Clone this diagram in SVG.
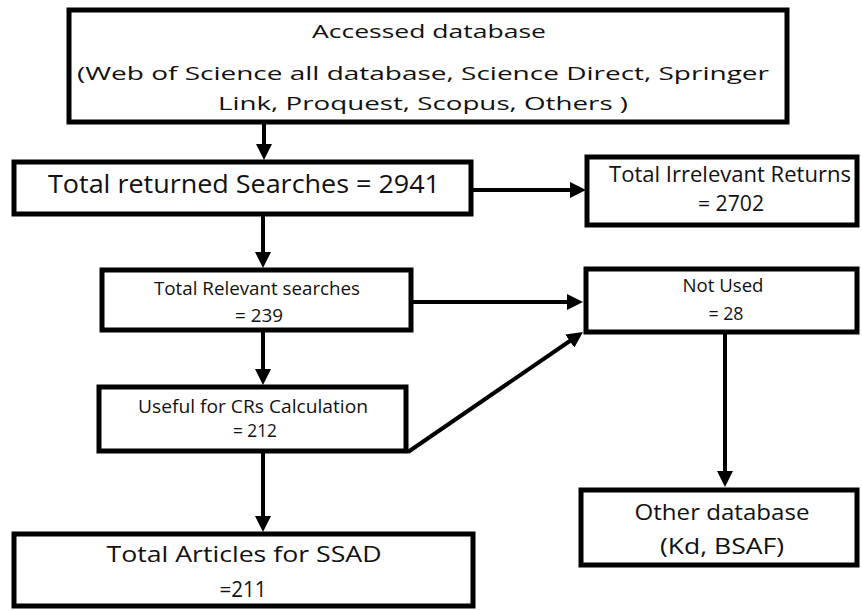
<svg xmlns="http://www.w3.org/2000/svg" width="862" height="610" viewBox="0 0 862 610">
<style>
.box{fill:#fff;stroke:#000;stroke-width:5}
.t{font-family:"Open Sans","DejaVu Sans",sans-serif;fill:#111;text-anchor:middle}
.f19{font-size:19px}
.f21{font-size:21px}
.f25{font-size:25px}
.con{stroke:#000;stroke-width:4;fill:none;marker-end:url(#ah)}
</style>
<defs>
<marker id="ah" markerUnits="userSpaceOnUse" markerWidth="16" markerHeight="16" viewBox="0 0 16 16" refX="8" refY="8" orient="auto">
<path d="M0,0 L16,8 L0,16 z" fill="#000"/>
</marker>
</defs>
<rect width="862" height="610" fill="#fff"/>
<g id="connectors">
<line class="con" x1="264" y1="124" x2="264" y2="152"/>
<line class="con" x1="473" y1="190" x2="578" y2="190"/>
<line class="con" x1="263" y1="216" x2="263" y2="260"/>
<line class="con" x1="413" y1="302" x2="575" y2="302"/>
<line class="con" x1="263" y1="332" x2="263" y2="377"/>
<line class="con" x1="408" y1="452" x2="576.4" y2="336.5"/>
<line class="con" x1="263" y1="453" x2="263" y2="524"/>
<line class="con" x1="725" y1="334" x2="725" y2="479"/>
</g>
<g id="accessed">
<rect class="box" x="69" y="10" width="718" height="112"/>
<text class="t f19" x="429" y="38" textLength="234" lengthAdjust="spacingAndGlyphs">Accessed database</text>
<text class="t f19" x="423" y="80" textLength="692" lengthAdjust="spacingAndGlyphs">(Web of Science all database, Science Direct, Springer</text>
<text class="t f19" x="423" y="110" textLength="410" lengthAdjust="spacingAndGlyphs">Link, Proquest, Scopus, Others )</text>
</g>
<g id="returned">
<rect class="box" x="14" y="162" width="457" height="52"/>
<text class="t f25" x="244" y="193" textLength="392" lengthAdjust="spacingAndGlyphs">Total returned Searches = 2941</text>
</g>
<g id="irrelevant">
<rect class="box" x="587" y="157" width="270" height="68"/>
<text class="t f21" x="730" y="182" textLength="242" lengthAdjust="spacingAndGlyphs">Total Irrelevant Returns</text>
<text class="t f21" x="731" y="211" textLength="66" lengthAdjust="spacingAndGlyphs">= 2702</text>
</g>
<g id="relevant">
<rect class="box" x="102" y="270" width="309" height="60"/>
<text class="t f19" x="257" y="295" textLength="206" lengthAdjust="spacingAndGlyphs">Total Relevant searches</text>
<text class="t f19" x="259" y="322" textLength="48" lengthAdjust="spacingAndGlyphs">= 239</text>
</g>
<g id="notused">
<rect class="box" x="586" y="269" width="271" height="63"/>
<text class="t f19" x="723" y="292" textLength="81" lengthAdjust="spacingAndGlyphs">Not Used</text>
<text class="t f19" x="726" y="320" textLength="35" lengthAdjust="spacingAndGlyphs">= 28</text>
</g>
<g id="useful">
<rect class="box" x="99" y="387" width="307" height="64"/>
<text class="t f19" x="253" y="413" textLength="230" lengthAdjust="spacingAndGlyphs">Useful for CRs  Calculation</text>
<text class="t f19" x="255" y="437" textLength="44" lengthAdjust="spacingAndGlyphs">= 212</text>
</g>
<g id="articles">
<rect class="box" x="14" y="534" width="459" height="72"/>
<text class="t f21" x="244" y="562" textLength="275" lengthAdjust="spacingAndGlyphs">Total Articles for SSAD</text>
<text class="t f21" x="243" y="597" textLength="47" lengthAdjust="spacingAndGlyphs">=211</text>
</g>
<g id="otherdb">
<rect class="box" x="581" y="490" width="276" height="75"/>
<text class="t f21" x="722" y="520" textLength="175" lengthAdjust="spacingAndGlyphs">Other database</text>
<text class="t f21" x="722" y="554" textLength="124" lengthAdjust="spacingAndGlyphs">(Kd, BSAF)</text>
</g>
</svg>
